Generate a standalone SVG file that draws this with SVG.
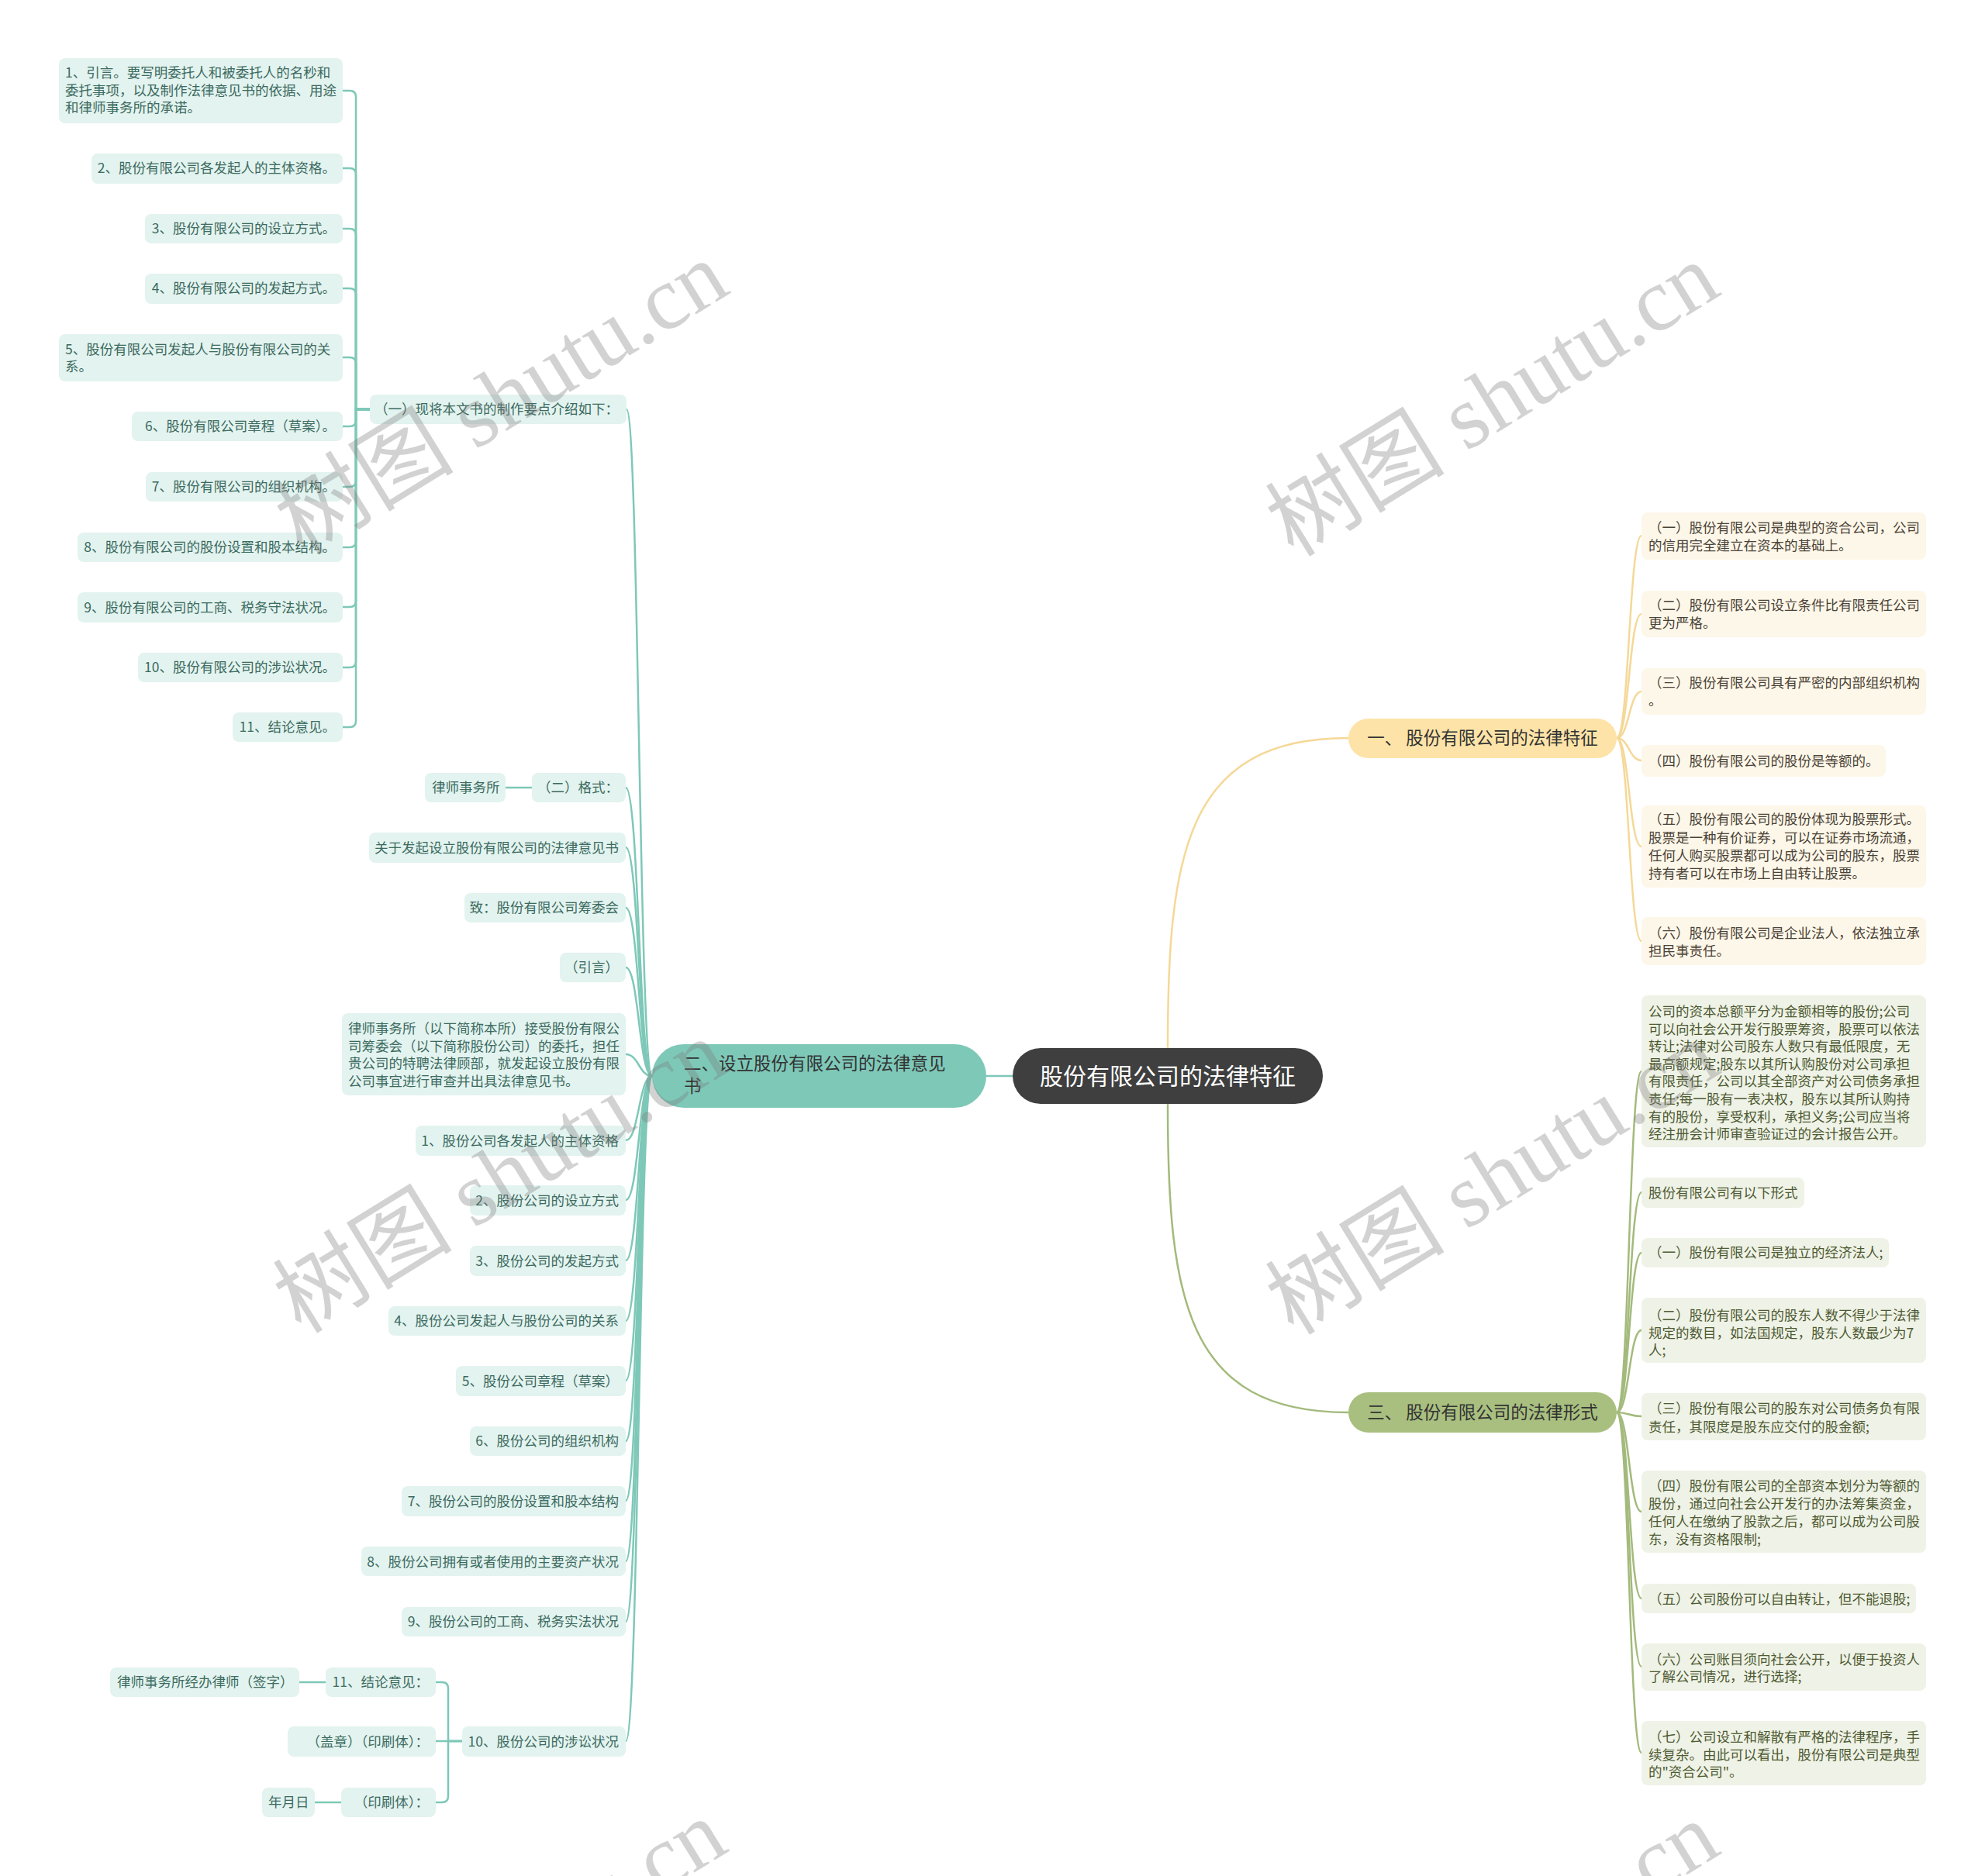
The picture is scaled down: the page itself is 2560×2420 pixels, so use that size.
<svg xmlns="http://www.w3.org/2000/svg" width="2560" height="2420" viewBox="0 0 2560 2420">
<style>
text{font-family:"Noto Sans CJK SC","Noto Sans",sans-serif;}
.lt{fill:#e3f3ef;}
.ly{fill:#fdf7e9;}
.lg{fill:#eff2e6;}
.tt{fill:#3b6a60;font-size:17.5px;}
.ty{fill:#4a4236;font-size:17.5px;}
.tg{fill:#4d5a33;font-size:17.5px;}
.e{text-anchor:end;}
.ct{fill:none;stroke:#7ec8b8;stroke-width:2.5;}
.cy{fill:none;stroke:#f5d898;stroke-width:2.5;}
.cg{fill:none;stroke:#a3ba7c;stroke-width:2.5;}
.wm{font-family:"Liberation Serif","Noto Sans CJK SC",serif;font-size:116px;fill:#7a7a7a;opacity:0.33;text-anchor:middle;dominant-baseline:central;}
</style>
<rect width="2560" height="2420" fill="#ffffff"/>
<g id="connectors">
<path class="cy" stroke-width="3" d="M1506 1352 C1506 1100 1530 952 1739 952"/>
<path class="cg" stroke-width="3" d="M1506 1424 C1506 1676 1530 1822 1739 1822"/>
<path class="ct" stroke-width="3" d="M1306 1388 H1272"/>
<path class="cy" d="M2085 952 C2101 952 2101 691 2117 691"/>
<path class="cy" d="M2085 952 C2101 952 2101 792 2117 792"/>
<path class="cy" d="M2085 952 C2101 952 2101 892 2117 892"/>
<path class="cy" d="M2085 952 C2101 952 2101 981 2117 981"/>
<path class="cy" d="M2085 952 C2101 952 2101 1092 2117 1092"/>
<path class="cy" d="M2085 952 C2101 952 2101 1214 2117 1214"/>
<path class="cg" d="M2085 1822 C2101 1822 2101 1382 2117 1382"/>
<path class="cg" d="M2085 1822 C2101 1822 2101 1538 2117 1538"/>
<path class="cg" d="M2085 1822 C2101 1822 2101 1616 2117 1616"/>
<path class="cg" d="M2085 1822 C2101 1822 2101 1716 2117 1716"/>
<path class="cg" d="M2085 1822 C2101 1822 2101 1827 2117 1827"/>
<path class="cg" d="M2085 1822 C2101 1822 2101 1950 2117 1950"/>
<path class="cg" d="M2085 1822 C2101 1822 2101 2062 2117 2062"/>
<path class="cg" d="M2085 1822 C2101 1822 2101 2150 2117 2150"/>
<path class="cg" d="M2085 1822 C2101 1822 2101 2261 2117 2261"/>
<path class="ct" d="M841 1388 C824 1388 824 528 808 528"/>
<path class="ct" d="M841 1388 C824 1388 824 1016 807 1016"/>
<path class="ct" d="M841 1388 C824 1388 824 1093 807 1093"/>
<path class="ct" d="M841 1388 C824 1388 824 1171 807 1171"/>
<path class="ct" d="M841 1388 C824 1388 824 1248 807 1248"/>
<path class="ct" d="M841 1388 C824 1388 824 1360 807 1360"/>
<path class="ct" d="M841 1388 C824 1388 824 1471 807 1471"/>
<path class="ct" d="M841 1388 C824 1388 824 1548 807 1548"/>
<path class="ct" d="M841 1388 C824 1388 824 1626 807 1626"/>
<path class="ct" d="M841 1388 C824 1388 824 1704 807 1704"/>
<path class="ct" d="M841 1388 C824 1388 824 1781 807 1781"/>
<path class="ct" d="M841 1388 C824 1388 824 1859 807 1859"/>
<path class="ct" d="M841 1388 C824 1388 824 1936 807 1936"/>
<path class="ct" d="M841 1388 C824 1388 824 2014 807 2014"/>
<path class="ct" d="M841 1388 C824 1388 824 2092 807 2092"/>
<path class="ct" d="M841 1388 C824 1388 824 2246 807 2246"/>
<path class="ct" d="M477 528 H459 V125 Q459 117 451 117 H442"/>
<path class="ct" d="M477 528 H459 V225 Q459 217 451 217 H442"/>
<path class="ct" d="M477 528 H459 V303 Q459 295 451 295 H442"/>
<path class="ct" d="M477 528 H459 V380 Q459 372 451 372 H442"/>
<path class="ct" d="M477 528 H459 V469 Q459 461 451 461 H442"/>
<path class="ct" d="M477 528 H459 V542 Q459 550 451 550 H442"/>
<path class="ct" d="M477 528 H459 V620 Q459 628 451 628 H442"/>
<path class="ct" d="M477 528 H459 V698 Q459 706 451 706 H442"/>
<path class="ct" d="M477 528 H459 V775 Q459 783 451 783 H442"/>
<path class="ct" d="M477 528 H459 V853 Q459 861 451 861 H442"/>
<path class="ct" d="M477 528 H459 V930 Q459 938 451 938 H442"/>
<path class="ct" d="M686 1016 H652"/>
<path class="ct" d="M596 2246 H578 V2178 Q578 2170 570 2170 H562"/>
<path class="ct" d="M596 2246 H562"/>
<path class="ct" d="M596 2246 H578 V2317 Q578 2325 570 2325 H562"/>
<path class="ct" d="M420 2170 H386"/>
<path class="ct" d="M440 2325 H406"/>
</g>
<g id="root">
<rect x="1306" y="1352" width="400" height="72" rx="36" fill="#3f3f3f"/>
<text x="1506" y="1399" text-anchor="middle" font-size="30" fill="#ffffff">股份有限公司的法律特征</text>
</g>
<g id="b1">
<rect x="1739" y="927" width="346" height="51" rx="25.5" fill="#fde3a7"/>
<text x="1912" y="960" text-anchor="middle" font-size="22.5" fill="#333333">一、 股份有限公司的法律特征</text>
</g>
<g id="b2">
<rect x="841" y="1347" width="431" height="82" rx="41" fill="#7ec8b8"/>
<text x="882" y="1380" font-size="22.5" fill="#333333">二、设立股份有限公司的法律意见</text>
<text x="882" y="1409" font-size="22.5" fill="#333333">书</text>
</g>
<g id="b3">
<rect x="1739" y="1796" width="346" height="52" rx="26" fill="#a8bf7f"/>
<text x="1912" y="1830" text-anchor="middle" font-size="22.5" fill="#333333">三、 股份有限公司的法律形式</text>
</g>
<g id="y1"><rect class="ly" x="2117" y="661" width="367" height="61" rx="8"/><text class="ty" x="2126" y="687">（一）股份有限公司是典型的资合公司，公司</text><text class="ty" x="2126" y="710">的信用完全建立在资本的基础上。</text></g>
<g id="y2"><rect class="ly" x="2117" y="762" width="367" height="60" rx="8"/><text class="ty" x="2126" y="787">（二）股份有限公司设立条件比有限责任公司</text><text class="ty" x="2126" y="810">更为严格。</text></g>
<g id="y3"><rect class="ly" x="2117" y="862" width="367" height="60" rx="8"/><text class="ty" x="2126" y="887">（三）股份有限公司具有严密的内部组织机构</text><text class="ty" x="2126" y="910">。</text></g>
<g id="y4"><rect class="ly" x="2117" y="961" width="315" height="41" rx="8"/><text class="ty" x="2126" y="988">（四）股份有限公司的股份是等额的。</text></g>
<g id="y5"><rect class="ly" x="2117" y="1039" width="367" height="106" rx="8"/><text class="ty" x="2126" y="1063">（五）股份有限公司的股份体现为股票形式。</text><text class="ty" x="2126" y="1087">股票是一种有价证券，可以在证券市场流通，</text><text class="ty" x="2126" y="1110">任何人购买股票都可以成为公司的股东，股票</text><text class="ty" x="2126" y="1133">持有者可以在市场上自由转让股票。</text></g>
<g id="y6"><rect class="ly" x="2117" y="1183" width="367" height="62" rx="8"/><text class="ty" x="2126" y="1210">（六）股份有限公司是企业法人，依法独立承</text><text class="ty" x="2126" y="1233">担民事责任。</text></g>
<g id="g1"><rect class="lg" x="2117" y="1284" width="367" height="196" rx="8"/>
<text class="tg" x="2126" y="1311">公司的资本总额平分为金额相等的股份;公司</text>
<text class="tg" x="2126" y="1334">可以向社会公开发行股票筹资，股票可以依法</text>
<text class="tg" x="2126" y="1356">转让;法律对公司股东人数只有最低限度，无</text>
<text class="tg" x="2126" y="1379">最高额规定;股东以其所认购股份对公司承担</text>
<text class="tg" x="2126" y="1401">有限责任，公司以其全部资产对公司债务承担</text>
<text class="tg" x="2126" y="1424">责任;每一股有一表决权，股东以其所认购持</text>
<text class="tg" x="2126" y="1447">有的股份，享受权利，承担义务;公司应当将</text>
<text class="tg" x="2126" y="1469">经注册会计师审查验证过的会计报告公开。</text></g>
<g id="g2"><rect class="lg" x="2117" y="1519" width="210" height="39" rx="8"/><text class="tg" x="2126" y="1545">股份有限公司有以下形式</text></g>
<g id="g3"><rect class="lg" x="2117" y="1597" width="319" height="38" rx="8"/><text class="tg" x="2126" y="1622">（一）股份有限公司是独立的经济法人;</text></g>
<g id="g4"><rect class="lg" x="2117" y="1674" width="367" height="84" rx="8"/><text class="tg" x="2126" y="1703">（二）股份有限公司的股东人数不得少于法律</text><text class="tg" x="2126" y="1726">规定的数目，如法国规定，股东人数最少为7</text><text class="tg" x="2126" y="1748">人;</text></g>
<g id="g5"><rect class="lg" x="2117" y="1797" width="367" height="61" rx="8"/><text class="tg" x="2126" y="1823">（三）股份有限公司的股东对公司债务负有限</text><text class="tg" x="2126" y="1847">责任，其限度是股东应交付的股金额;</text></g>
<g id="g6"><rect class="lg" x="2117" y="1897" width="367" height="106" rx="8"/><text class="tg" x="2126" y="1923">（四）股份有限公司的全部资本划分为等额的</text><text class="tg" x="2126" y="1946">股份，通过向社会公开发行的办法筹集资金，</text><text class="tg" x="2126" y="1969">任何人在缴纳了股款之后，都可以成为公司股</text><text class="tg" x="2126" y="1992">东，没有资格限制;</text></g>
<g id="g7"><rect class="lg" x="2117" y="2043" width="354" height="38" rx="8"/><text class="tg" x="2126" y="2069">（五）公司股份可以自由转让，但不能退股;</text></g>
<g id="g8"><rect class="lg" x="2117" y="2120" width="367" height="61" rx="8"/><text class="tg" x="2126" y="2147">（六）公司账目须向社会公开，以便于投资人</text><text class="tg" x="2126" y="2169">了解公司情况，进行选择;</text></g>
<g id="g9"><rect class="lg" x="2117" y="2220" width="367" height="83" rx="8"/><text class="tg" x="2126" y="2247">（七）公司设立和解散有严格的法律程序，手</text><text class="tg" x="2126" y="2270">续复杂。由此可以看出，股份有限公司是典型</text><text class="tg" x="2126" y="2292">的"资合公司"。</text></g>
<g id="t0"><rect class="lt" x="477" y="509" width="331" height="38" rx="8"/><text class="tt e" x="798" y="534">（一）现将本文书的制作要点介绍如下：</text></g>
<g id="t0-1"><rect class="lt" x="76" y="75" width="366" height="84" rx="8"/><text class="tt" x="84" y="100">1、引言。要写明委托人和被委托人的名秒和</text><text class="tt" x="84" y="123">委托事项，以及制作法律意见书的依据、用途</text><text class="tt" x="84" y="145">和律师事务所的承诺。</text></g>
<g id="t0-2"><rect class="lt" x="118" y="198" width="324" height="39" rx="8"/><text class="tt e" x="433" y="223">2、股份有限公司各发起人的主体资格。</text></g>
<g id="t0-3"><rect class="lt" x="187" y="276" width="255" height="38" rx="8"/><text class="tt e" x="433" y="301">3、股份有限公司的设立方式。</text></g>
<g id="t0-4"><rect class="lt" x="187" y="353" width="255" height="39" rx="8"/><text class="tt e" x="433" y="378">4、股份有限公司的发起方式。</text></g>
<g id="t0-5"><rect class="lt" x="76" y="431" width="366" height="61" rx="8"/><text class="tt" x="84" y="457">5、股份有限公司发起人与股份有限公司的关</text><text class="tt" x="84" y="479">系。</text></g>
<g id="t0-6"><rect class="lt" x="170" y="531" width="272" height="38" rx="8"/><text class="tt e" x="433" y="556">6、股份有限公司章程（草案）。</text></g>
<g id="t0-7"><rect class="lt" x="188" y="609" width="254" height="38" rx="8"/><text class="tt e" x="433" y="634">7、股份有限公司的组织机构。</text></g>
<g id="t0-8"><rect class="lt" x="100" y="687" width="342" height="38" rx="8"/><text class="tt e" x="433" y="712">8、股份有限公司的股份设置和股本结构。</text></g>
<g id="t0-9"><rect class="lt" x="100" y="764" width="342" height="39" rx="8"/><text class="tt e" x="433" y="790">9、股份有限公司的工商、税务守法状况。</text></g>
<g id="t0-10"><rect class="lt" x="178" y="842" width="264" height="38" rx="8"/><text class="tt e" x="433" y="867">10、股份有限公司的涉讼状况。</text></g>
<g id="t0-11"><rect class="lt" x="300" y="919" width="142" height="38" rx="8"/><text class="tt e" x="433" y="944">11、结论意见。</text></g>
<g id="t1"><rect class="lt" x="686" y="997" width="121" height="38" rx="8"/><text class="tt e" x="798" y="1022">（二）格式：</text></g>
<g id="t1-1"><rect class="lt" x="548" y="997" width="104" height="38" rx="8"/><text class="tt" x="557" y="1022">律师事务所</text></g>
<g id="t2"><rect class="lt" x="476" y="1074" width="331" height="39" rx="8"/><text class="tt e" x="798" y="1100">关于发起设立股份有限公司的法律意见书</text></g>
<g id="t3"><rect class="lt" x="599" y="1152" width="208" height="38" rx="8"/><text class="tt e" x="798" y="1177">致：股份有限公司筹委会</text></g>
<g id="t4"><rect class="lt" x="722" y="1229" width="85" height="38" rx="8"/><text class="tt e" x="798" y="1254">（引言）</text></g>
<g id="t5"><rect class="lt" x="441" y="1307" width="366" height="106" rx="8"/><text class="tt" x="449" y="1333">律师事务所（以下简称本所）接受股份有限公</text><text class="tt" x="449" y="1356">司筹委会（以下简称股份公司）的委托，担任</text><text class="tt" x="449" y="1378">贵公司的特聘法律顾部，就发起设立股份有限</text><text class="tt" x="449" y="1401">公司事宜进行审查并出具法律意见书。</text></g>
<g id="t6"><rect class="lt" x="536" y="1452" width="271" height="39" rx="8"/><text class="tt e" x="798" y="1478">1、股份公司各发起人的主体资格</text></g>
<g id="t7"><rect class="lt" x="606" y="1529" width="201" height="39" rx="8"/><text class="tt e" x="798" y="1555">2、股份公司的设立方式</text></g>
<g id="t8"><rect class="lt" x="606" y="1607" width="201" height="39" rx="8"/><text class="tt e" x="798" y="1633">3、股份公司的发起方式</text></g>
<g id="t9"><rect class="lt" x="501" y="1685" width="306" height="38" rx="8"/><text class="tt e" x="798" y="1710">4、股份公司发起人与股份公司的关系</text></g>
<g id="t10"><rect class="lt" x="588" y="1762" width="219" height="39" rx="8"/><text class="tt e" x="798" y="1788">5、股份公司章程（草案）</text></g>
<g id="t11"><rect class="lt" x="606" y="1840" width="201" height="38" rx="8"/><text class="tt e" x="798" y="1865">6、股份公司的组织机构</text></g>
<g id="t12"><rect class="lt" x="518" y="1917" width="289" height="39" rx="8"/><text class="tt e" x="798" y="1943">7、股份公司的股份设置和股本结构</text></g>
<g id="t13"><rect class="lt" x="466" y="1995" width="341" height="38" rx="8"/><text class="tt e" x="798" y="2021">8、股份公司拥有或者使用的主要资产状况</text></g>
<g id="t14"><rect class="lt" x="518" y="2073" width="289" height="38" rx="8"/><text class="tt e" x="798" y="2098">9、股份公司的工商、税务实法状况</text></g>
<g id="t15"><rect class="lt" x="596" y="2227" width="211" height="39" rx="8"/><text class="tt e" x="798" y="2253">10、股份公司的涉讼状况</text></g>
<g id="t15-1"><rect class="lt" x="420" y="2151" width="142" height="38" rx="8"/><text class="tt e" x="553" y="2176">11、结论意见：</text></g>
<g id="t15-1-1"><rect class="lt" x="142" y="2151" width="244" height="38" rx="8"/><text class="tt" x="151" y="2176">律师事务所经办律师（签字）</text></g>
<g id="t15-2"><rect class="lt" x="371" y="2227" width="191" height="39" rx="8"/><text class="tt e" x="553" y="2253">（盖章）（印刷体）：</text></g>
<g id="t15-3"><rect class="lt" x="440" y="2306" width="122" height="38" rx="8"/><text class="tt e" x="553" y="2331">（印刷体）：</text></g>
<g id="t15-3-1"><rect class="lt" x="338" y="2306" width="68" height="38" rx="8"/><text class="tt" x="346" y="2331">年月日</text></g>
<g id="watermarks">
<text class="wm" transform="translate(647 514) rotate(-31.6)">树图 shutu.cn</text>
<text class="wm" transform="translate(1925 516) rotate(-31.6)">树图 shutu.cn</text>
<text class="wm" transform="translate(645 1518) rotate(-31.6)">树图 shutu.cn</text>
<text class="wm" transform="translate(1925 1520) rotate(-31.6)">树图 shutu.cn</text>
<text class="wm" transform="translate(645 2524) rotate(-31.6)">树图 shutu.cn</text>
<text class="wm" transform="translate(1925 2527) rotate(-31.6)">树图 shutu.cn</text>
</g>
</svg>
